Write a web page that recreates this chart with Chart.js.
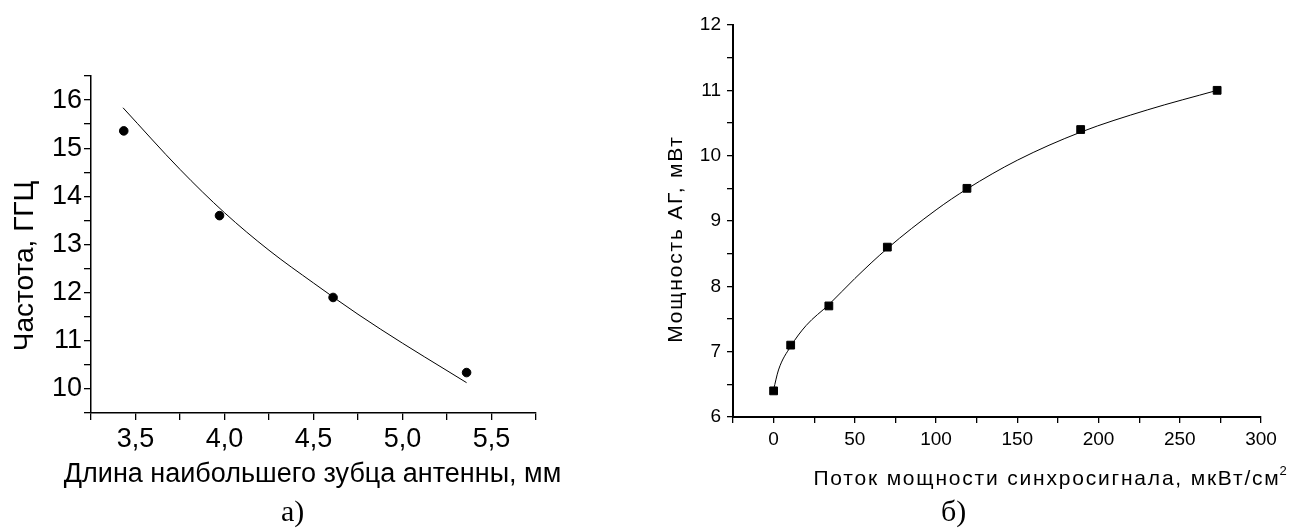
<!DOCTYPE html>
<html><head><meta charset="utf-8">
<script src="https://cdn.jsdelivr.net/npm/chart.js@4"></script>
<style>
html,body{margin:0;padding:0;background:#fff;}
#wrap{position:relative;width:1295px;height:530px;overflow:hidden;background:#fff;}
canvas{position:absolute;top:0;}
#c1{left:0;} #c2{left:640px;}
.cap{position:absolute;font-family:"Liberation Serif","Times New Roman",serif;font-size:30px;line-height:30px;color:#000;}
</style></head><body>
<div id="wrap">
<canvas id="c1" width="640" height="530"></canvas>
<canvas id="c2" width="655" height="530"></canvas>
<div class="cap" style="left:281px;top:496px">а)</div>
<div class="cap" style="left:941px;top:496px">б)</div>
</div>
<script>
// ---- Chart a) data ----
const toothLengthMm = [3.434, 3.972, 4.61, 5.36];
const frequencyGHz = [15.36, 13.6, 11.9, 10.34];
const freqFitX = [3.43, 3.75, 4.0, 4.25, 4.5, 4.75, 5.0, 5.25, 5.36];
const freqFitY = [15.84, 14.56, 13.66, 12.88, 12.2, 11.55, 10.95, 10.38, 10.13];
const aXTickValues = [3.5, 4.0, 4.5, 5.0, 5.5];
const aXTickLabels = ['3,5', '4,0', '4,5', '5,0', '5,5'];
const aYTickValues = [10, 11, 12, 13, 14, 15, 16];
const aYTickLabels = ['10', '11', '12', '13', '14', '15', '16'];

// ---- Chart б) data ----
const syncFlux = [0, 10.5, 34, 70, 119, 189, 273];
const agPower = [6.4, 7.1, 7.7, 8.6, 9.5, 10.4, 11.0];
const powerFitX = [0, 3, 10.5, 20, 34, 50, 70, 100, 119, 150, 189, 230, 273];
const powerFitY = [6.42, 6.72, 7.08, 7.4, 7.72, 8.12, 8.58, 9.17, 9.49, 9.93, 10.36, 10.7, 11.0];
const bXTickValues = [0, 50, 100, 150, 200, 250, 300];
const bXTickLabels = ['0', '50', '100', '150', '200', '250', '300'];
const bYTickValues = [6, 7, 8, 9, 10, 11, 12];
const bYTickLabels = ['6', '7', '8', '9', '10', '11', '12'];

function pairs(xs, ys) { return xs.map((x, i) => ({x: x, y: ys[i]})); }
function labeler(vals, labels) {
  return function (v) {
    for (let i = 0; i < vals.length; i++) if (Math.abs(v - vals[i]) < 1e-6) return labels[i];
    return '';
  };
}

const axisTitles = {
  id: 'axisTitles',
  afterDraw(chart, args, opts) {
    const ctx = chart.ctx;
    (opts.items || []).forEach(it => {
      ctx.save();
      ctx.font = it.font;
      ctx.fillStyle = '#000';
      if ('letterSpacing' in ctx) ctx.letterSpacing = it.spacing || '0px';
      ctx.textAlign = 'center';
      ctx.textBaseline = 'alphabetic';
      ctx.translate(it.x, it.y);
      if (it.rotate) ctx.rotate(it.rotate);
      ctx.fillText(it.text, 0, 0);
      if (it.sup) {
        const w = ctx.measureText(it.text).width;
        ctx.font = it.supFont;
        ctx.textAlign = 'left';
        ctx.fillText(it.sup, w / 2 - 1, -10);
      }
      ctx.restore();
    });
  }
};

function axis(opts) {
  return {
    type: 'linear',
    min: opts.min, max: opts.max,
    ticks: {
      stepSize: opts.step, autoSkip: false, maxRotation: 0, minRotation: 0,
      color: '#000', padding: opts.pad,
      font: {family: '"Liberation Sans", Arial, sans-serif', size: opts.fs},
      callback: labeler(opts.vals, opts.labels)
    },
    grid: {display: true, drawOnChartArea: false, drawTicks: true, tickLength: opts.tl, color: '#000', lineWidth: 1.3},
    border: {display: true, color: '#000', width: opts.bw},
    afterFit(scale) { if (opts.w) scale.width = opts.w; if (opts.h) scale.height = opts.h; }
  };
}

Chart.defaults.animation = false;

new Chart(document.getElementById('c1'), {
  type: 'scatter',
  data: {
    datasets: [
      {data: pairs(toothLengthMm, frequencyGHz), pointStyle: 'circle', pointRadius: 4.3, pointHoverRadius: 4.3,
       backgroundColor: '#000', borderColor: '#000', showLine: false, order: 0},
      {data: pairs(freqFitX, freqFitY), showLine: true, pointRadius: 0, borderColor: '#000', borderWidth: 1,
       cubicInterpolationMode: 'monotone', order: 1}
    ]
  },
  options: {
    responsive: false, animation: false,
    layout: {padding: {left: 0, top: 76, right: 104, bottom: 0}},
    plugins: {
      legend: {display: false}, tooltip: {enabled: false},
      axisTitles: {items: [
        {text: 'Длина наибольшего зубца антенны, мм', x: 312.5, y: 482, font: '27px "Liberation Sans", Arial, sans-serif'},
        {text: 'Частота, ГГЦ', x: 33, y: 266, rotate: -Math.PI / 2, font: '28px "Liberation Sans", Arial, sans-serif'}
      ]}
    },
    scales: {
      x: axis({min: 3.25, max: 5.75, step: 0.25, vals: aXTickValues, labels: aXTickLabels, fs: 27, pad: 3, tl: 7, bw: 1.5, h: 117}),
      y: axis({min: 9.5, max: 16.5, step: 0.5, vals: aYTickValues, labels: aYTickLabels, fs: 27, pad: 2, tl: 7, bw: 1.5, w: 91})
    }
  },
  plugins: [axisTitles]
});

new Chart(document.getElementById('c2'), {
  type: 'scatter',
  data: {
    datasets: [
      {data: pairs(syncFlux, agPower), pointStyle: 'rect', pointRadius: 5.5, pointHoverRadius: 5.5,
       backgroundColor: '#000', borderColor: '#000', showLine: false, order: 0},
      {data: pairs(powerFitX, powerFitY), showLine: true, pointRadius: 0, borderColor: '#000', borderWidth: 1,
       cubicInterpolationMode: 'monotone', order: 1}
    ]
  },
  options: {
    responsive: false, animation: false,
    layout: {padding: {left: 0, top: 25, right: 34, bottom: 0}},
    plugins: {
      legend: {display: false}, tooltip: {enabled: false},
      axisTitles: {items: [
        {text: 'Поток мощности синхросигнала, мкВт/см', sup: '2', x: 407, y: 485, spacing: '1.8px',
         font: '21px "Liberation Sans", Arial, sans-serif', supFont: '13px "Liberation Sans", Arial, sans-serif'},
        {text: 'Мощность АГ, мВт', x: 42, y: 239, rotate: -Math.PI / 2, spacing: '1.8px',
         font: '21px "Liberation Sans", Arial, sans-serif'}
      ]}
    },
    scales: {
      x: axis({min: -25, max: 300, step: 25, vals: bXTickValues, labels: bXTickLabels, fs: 19, pad: 5, tl: 6, bw: 2, h: 113}),
      y: axis({min: 6, max: 12, step: 0.5, vals: bYTickValues, labels: bYTickLabels, fs: 19, pad: 6, tl: 6, bw: 2, w: 93})
    }
  },
  plugins: [axisTitles]
});
</script>
</body></html>
